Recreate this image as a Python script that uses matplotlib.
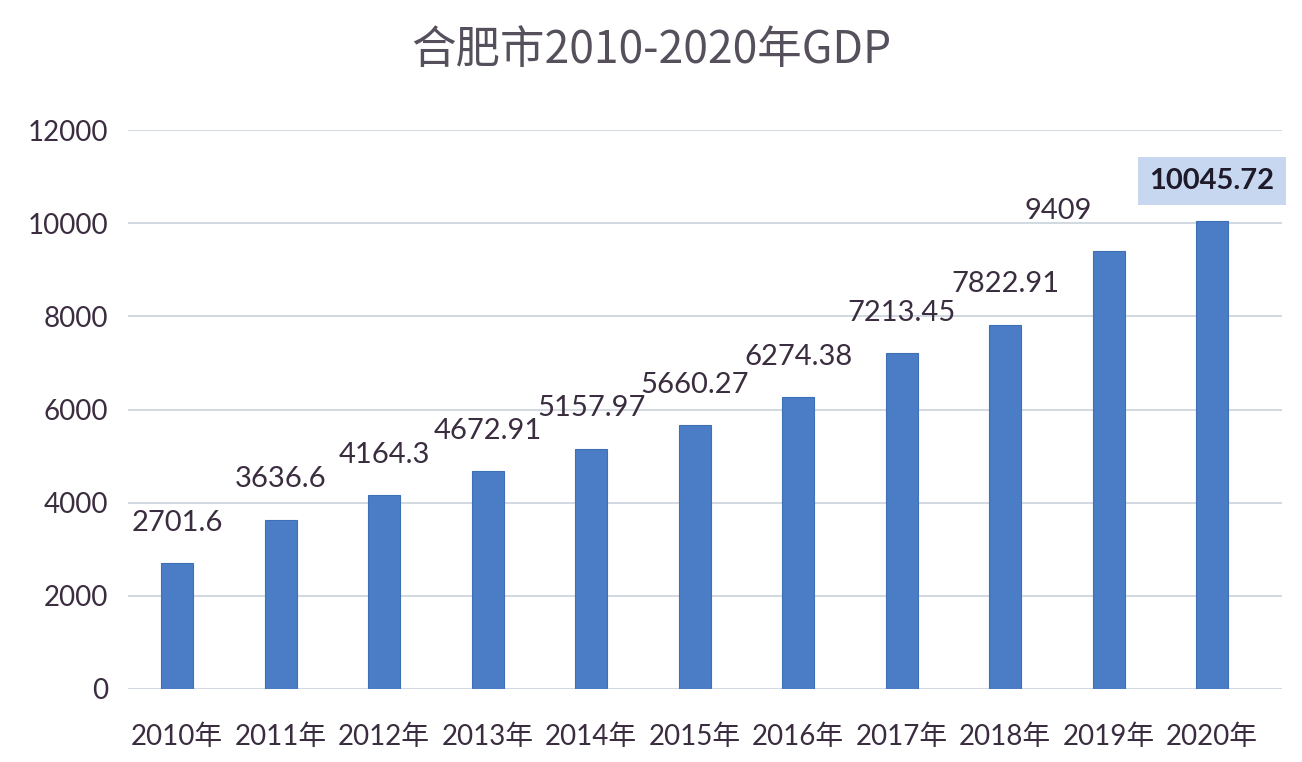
import matplotlib.pyplot as plt

years = ["2010年", "2011年", "2012年", "2013年", "2014年", "2015年",
         "2016年", "2017年", "2018年", "2019年", "2020年"]
gdp = [2701.6, 3636.6, 4164.3, 4672.91, 5157.97, 5660.27,
       6274.38, 7213.45, 7822.91, 9409, 10045.72]
labels = ["2701.6", "3636.6", "4164.3", "4672.91", "5157.97", "5660.27",
          "6274.38", "7213.45", "7822.91", "9409", "10045.72"]
yticks = [0, 2000, 4000, 6000, 8000, 10000, 12000]

plt.rcParams['font.family'] = ['Lato', 'Noto Sans CJK SC', 'DejaVu Sans']
txt = '#3b2d40'

fig = plt.figure(figsize=(13.02, 7.62), dpi=100)
ax = fig.add_axes([0.098, 0.096, 0.887, 0.733])

x = list(range(len(years)))
ax.bar(x, gdp, width=0.31, color='#4a7dc6', edgecolor='#3f6fb5', linewidth=0.8, zorder=3)

# data labels, the last one gets a box; 2019 label sits left of its bar
for i, (v, s) in enumerate(zip(gdp, labels)):
    dx = 0
    if i == 9:
        dx = -36
    if i == len(gdp) - 1:
        ax.annotate(s, (i, v), xytext=(0, 29), textcoords='offset points',
                    ha='center', va='center', fontsize=21, fontweight='bold', color='#1e1a2a',
                    bbox=dict(boxstyle='square,pad=0.38', fc='#c6d7ef', ec='none'))
    else:
        ax.annotate(s, (i, v), xytext=(dx, 29), textcoords='offset points',
                    ha='center', va='center', fontsize=21, color=txt)

ax.set_ylim(0, 12000)
ax.set_xlim(-0.48, 10.68)
ax.set_yticks(yticks)
ax.set_xticks(x)
ax.set_xticklabels(years)
ax.tick_params(axis='both', length=0, labelsize=20, colors=txt)
ax.tick_params(axis='x', pad=25)
ax.tick_params(axis='y', pad=14)
ax.grid(axis='y', color='#c9d2da', linewidth=1.2, zorder=0)
for sp in ax.spines.values():
    sp.set_visible(False)

fig.text(0.5, 0.935, "合肥市2010-2020年GDP", ha='center', va='center', fontsize=32,
         color='#56505c', family=['Noto Sans CJK SC', 'DejaVu Sans'], fontweight='light')

fig.savefig("out.png", dpi=100)
